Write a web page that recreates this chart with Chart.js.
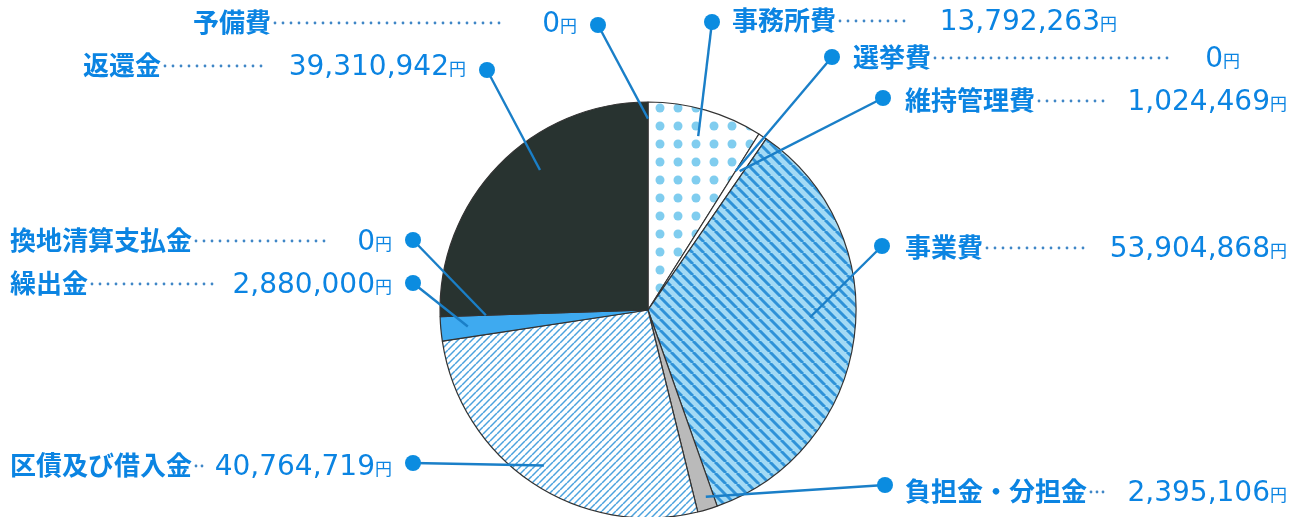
<!DOCTYPE html>
<html>
<head>
<meta charset="utf-8">
<script src="https://cdn.jsdelivr.net/npm/chart.js@4/dist/chart.umd.min.js"></script>
<style>
  body { margin: 0; background: #fff; }
</style>
</head>
<body>
<canvas id="myChart" width="1303" height="517"></canvas>
<script>
// pie slices, clockwise from the top
var categories = ['事務所費', '選挙費', '維持管理費', '事業費', '負担金・分担金', '区債及び借入金', '繰出金', '換地清算支払金', '返還金', '予備費'];
var amounts = [13792263, 0, 1024469, 53904868, 2395106, 40764719, 2880000, 0, 39310942, 0];

// where each label sits (layout only)
var labelLayout = [
  { nameX: 732, cy: 20,  valueRight: 1117, dotsEnd: 910,  step: 8, bx: 712, by: 22,  t: 0.5,  f: 0.87 },
  { nameX: 853, cy: 57,  valueRight: 1240, dotsEnd: 1172, step: 8, bx: 832, by: 57,  t: 0.5,  f: 0.79 },
  { nameX: 905, cy: 100, valueRight: 1287, dotsEnd: 1110, step: 8, bx: 883, by: 98,  t: 0.5,  f: 0.80 },
  { nameX: 905, cy: 247, valueRight: 1287, dotsEnd: 1090, step: 8, bx: 882, by: 246, t: 0.46, f: 0.78 },
  { nameX: 905, cy: 491, valueRight: 1287, dotsEnd: 1104, step: 6, bx: 885, by: 485, t: 0.4,  f: 0.94 },
  { nameX: 10,  cy: 465, valueRight: 392,  dotsEnd: 208,  step: 6, bx: 413, by: 463, t: 0.5,  f: 0.90 },
  { nameX: 10,  cy: 283, valueRight: 392,  dotsEnd: 215,  step: 8, bx: 413, by: 283, t: 0.5,  f: 0.87 },
  { nameX: 10,  cy: 240, valueRight: 392,  dotsEnd: 325,  step: 8, bx: 413, by: 240, t: 0.5,  f: 0.78 },
  { nameX: 83,  cy: 65,  valueRight: 466,  dotsEnd: 265,  step: 8, bx: 487, by: 70,  t: 0.59, f: 0.85 },
  { nameX: 193, cy: 22,  valueRight: 577,  dotsEnd: 505,  step: 8, bx: 598, by: 25,  t: 0.5,  f: 0.92 }
];

function makeTile(size, draw) {
  var c = document.createElement('canvas');
  c.width = size; c.height = size;
  var g = c.getContext('2d');
  draw(g, size);
  return document.getElementById('myChart').getContext('2d').createPattern(c, 'repeat');
}

var dotPattern = makeTile(18, function (g, s) {
  g.fillStyle = '#fff'; g.fillRect(0, 0, s, s);
  g.fillStyle = '#80cdef';
  g.beginPath(); g.arc(12, 0, 4.5, 0, Math.PI * 2); g.fill();
  g.beginPath(); g.arc(12, 18, 4.5, 0, Math.PI * 2); g.fill();
});

var bigHatch = makeTile(11, function (g, s) {
  g.fillStyle = '#a3daf5'; g.fillRect(0, 0, s, s);
  g.strokeStyle = '#2f92d8'; g.lineWidth = 3;
  [-s, 0, s].forEach(function (o) {
    g.beginPath(); g.moveTo(o, 0); g.lineTo(o + s, s); g.stroke();
  });
});

var thinHatch = makeTile(7, function (g, s) {
  g.fillStyle = '#fff'; g.fillRect(0, 0, s, s);
  g.strokeStyle = '#4ba2de'; g.lineWidth = 1.5;
  [-s, 0, s].forEach(function (o) {
    g.beginPath(); g.moveTo(o, s); g.lineTo(o + s, 0); g.stroke();
  });
});

var sliceColors = [dotPattern, '#ffffff', '#ffffff', bigHatch, '#bababa', thinHatch, '#3eaaf0', '#3eaaf0', '#283330', '#283330'];

function fmt(n) {
  return String(n).replace(/\B(?=(\d{3})+(?!\d))/g, ',');
}

var calloutPlugin = {
  id: 'callouts',
  afterDraw: function (chart) {
    var ctx = chart.ctx;
    var meta = chart.getDatasetMeta(0);
    ctx.save();
    categories.forEach(function (name, i) {
      var L = labelLayout[i];
      var arc = meta.data[i].getProps(['x', 'y', 'startAngle', 'endAngle', 'outerRadius'], true);
      var a = arc.startAngle + L.t * (arc.endAngle - arc.startAngle);
      var ex = arc.x + Math.cos(a) * arc.outerRadius * L.f;
      var ey = arc.y + Math.sin(a) * arc.outerRadius * L.f;

      // leader line + bubble
      ctx.strokeStyle = '#1a7fc8';
      ctx.lineWidth = 2.4;
      ctx.beginPath(); ctx.moveTo(L.bx, L.by); ctx.lineTo(ex, ey); ctx.stroke();
      ctx.fillStyle = '#0b8ce0';
      ctx.beginPath(); ctx.arc(L.bx, L.by, 8, 0, Math.PI * 2); ctx.fill();

      var base = L.cy + 10;
      // name
      ctx.fillStyle = '#0b84e2';
      ctx.textAlign = 'left';
      ctx.textBaseline = 'alphabetic';
      ctx.font = 'bold 26px "Noto Sans CJK JP"';
      ctx.fillText(name, L.nameX, base);
      var nameEnd = L.nameX + ctx.measureText(name).width;

      // dotted leader
      ctx.fillStyle = '#3f86c6';
      for (var x = nameEnd + 4; x <= L.dotsEnd; x += L.step) {
        ctx.beginPath(); ctx.arc(x, L.cy + 1, 1.4, 0, Math.PI * 2); ctx.fill();
      }

      // value + yen
      ctx.fillStyle = '#0b84e2';
      ctx.textAlign = 'right';
      ctx.font = '17px "Noto Sans CJK JP"';
      ctx.fillText('円', L.valueRight, base);
      var yenW = ctx.measureText('円').width;
      ctx.font = '28px "DejaVu Sans"';
      ctx.fillText(fmt(amounts[i]), L.valueRight - yenW, base);
    });
    ctx.restore();
  }
};

var chart = new Chart(document.getElementById('myChart'), {
  type: 'pie',
  data: {
    labels: categories,
    datasets: [{
      data: amounts,
      backgroundColor: sliceColors,
      borderColor: '#333333',
      borderWidth: 1.2
    }]
  },
  options: {
    responsive: false,
    animation: false,
    radius: 208,
    layout: { padding: { top: 103, bottom: 0, left: 440, right: 447 } },
    plugins: {
      legend: { display: false },
      tooltip: { enabled: false }
    }
  },
  plugins: [calloutPlugin]
});
</script>
</body>
</html>
